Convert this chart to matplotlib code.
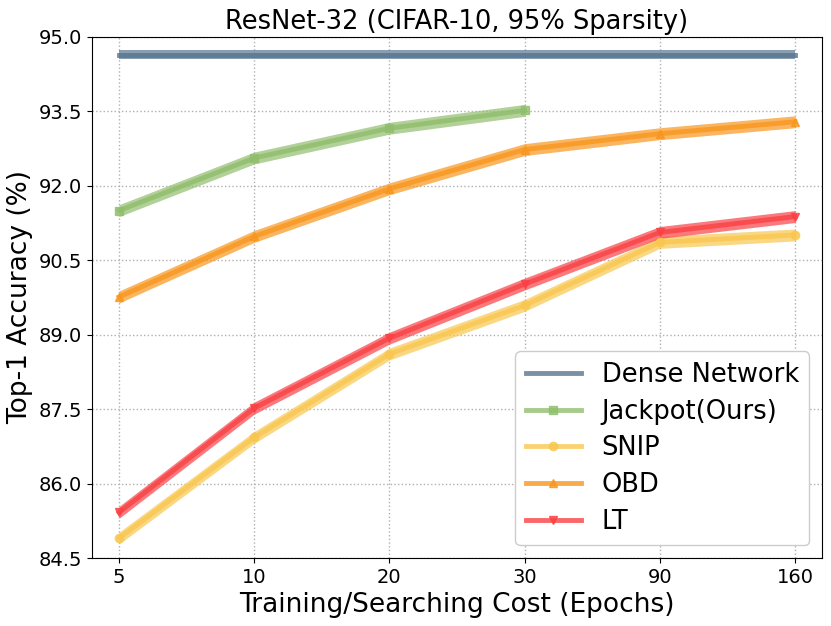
import numpy as np
import matplotlib.pyplot as plt

# x axis is categorical: training / searching cost in epochs
epochs = ['5', '10', '20', '30', '90', '160']

dense_acc = [94.64, 94.64, 94.64, 94.64, 94.64, 94.64]
jackpot_acc = [91.50, 92.56, 93.16, 93.52]
snip_acc = [84.90, 86.93, 88.61, 89.59, 90.86, 91.01]
obd_acc = [89.76, 90.98, 91.94, 92.73, 93.05, 93.29]
lt_acc = [85.42, 87.52, 88.93, 90.02, 91.06, 91.38]

# half width of the shaded band around each curve
band = [0.09, 0.12, 0.12, 0.12, 0.12]

series = [
    ('Dense Network', dense_acc, '#577590', None),
    ('Jackpot(Ours)', jackpot_acc, '#90be6d', 's'),
    ('SNIP', snip_acc, '#f9c74f', 'o'),
    ('OBD', obd_acc, '#f8961e', '^'),
    ('LT', lt_acc, '#f94144', 'v'),
]

fig = plt.figure(figsize=(8.31, 6.26), dpi=100)
ax = fig.add_axes([0.1107, 0.1086, 0.8785, 0.8324])
ax.grid(True, linestyle=':', color='#b0b0b0', linewidth=1, zorder=0)

for (name, acc, color, marker), b in zip(series, band):
    x = np.arange(len(acc))
    acc = np.array(acc)
    ax.fill_between(x, acc - b, acc + b, color=color, alpha=0.7, linewidth=0, zorder=2)
    ax.plot(x, acc, color=color, marker=marker, markersize=6, linewidth=3.5,
            alpha=0.8, label=name, zorder=3)

ax.set_xticks(np.arange(len(epochs)))
ax.set_xticklabels(epochs)
ax.set_xlim(-0.2, 5.2)
ax.set_ylim(84.5, 95.0)
ax.set_yticks([84.5, 86.0, 87.5, 89.0, 90.5, 92.0, 93.5, 95.0])
ax.set_yticklabels(['84.5', '86.0', '87.5', '89.0', '90.5', '92.0', '93.5', '95.0'])
ax.tick_params(labelsize=14)

ax.set_xlabel('Training/Searching Cost (Epochs)', fontsize=19)
ax.set_ylabel('Top-1 Accuracy (%)', fontsize=19)
ax.set_title('ResNet-32 (CIFAR-10, 95% Sparsity)', fontsize=18.5)

ax.legend(loc='lower right', fontsize=18.5, framealpha=1, handlelength=2.15,
          labelspacing=0.42, borderpad=0.4)

plt.savefig('out.png', dpi=100)
